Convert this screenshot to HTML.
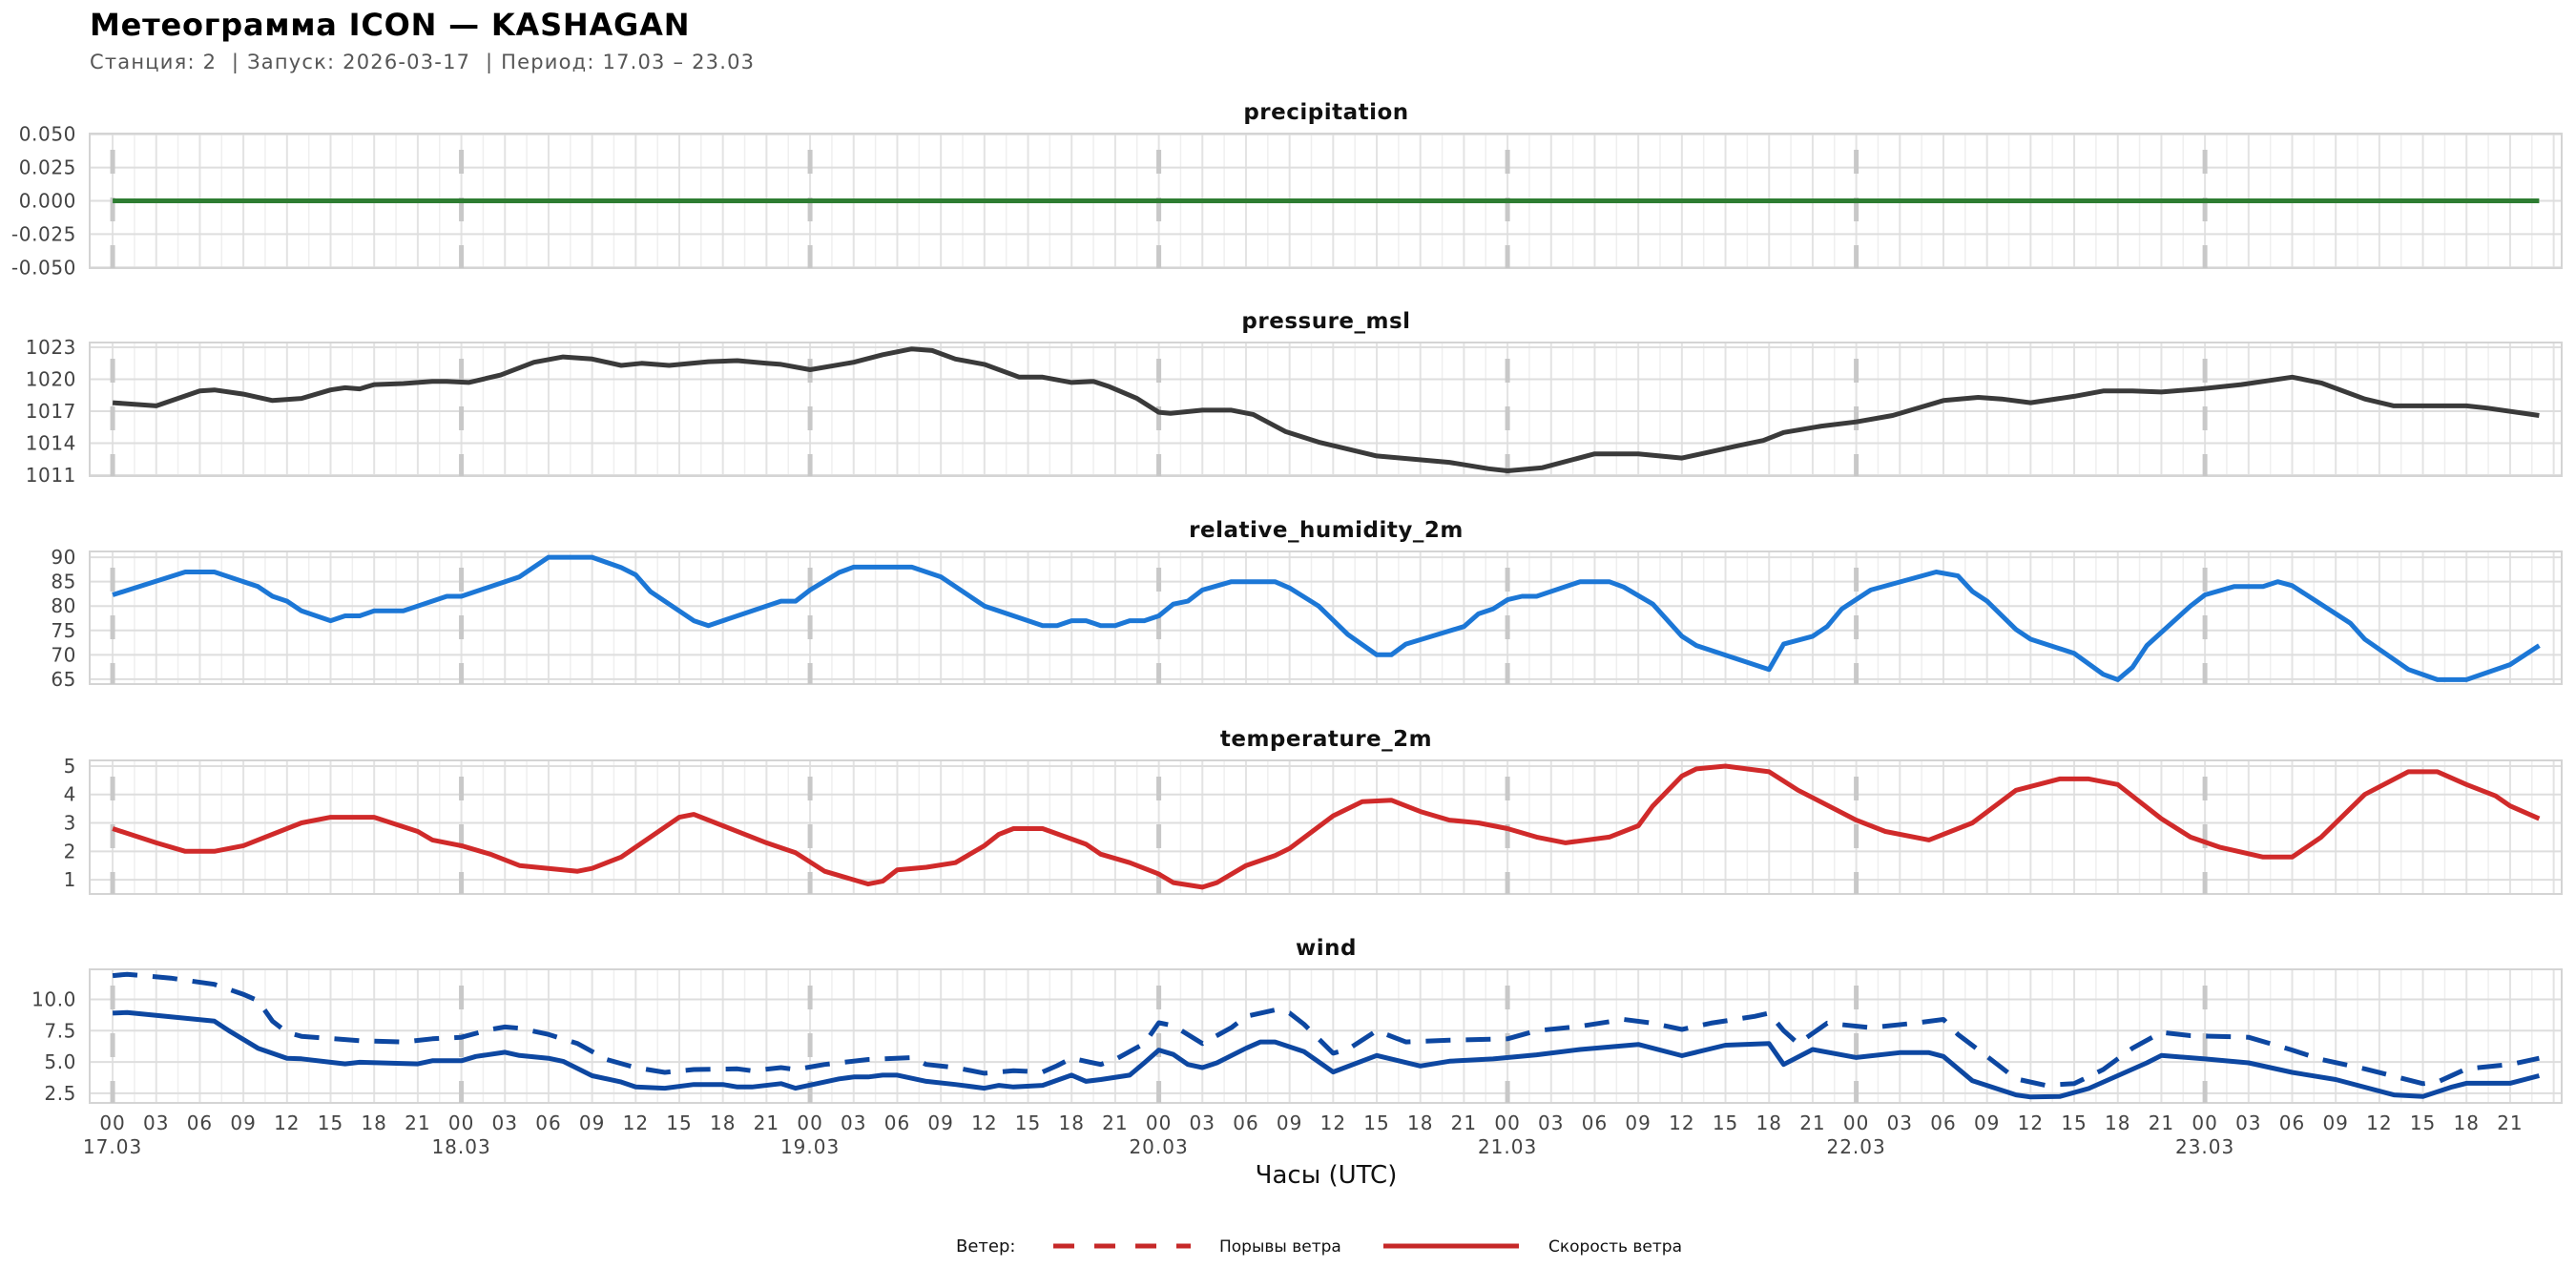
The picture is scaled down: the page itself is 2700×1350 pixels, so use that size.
<!DOCTYPE html>
<html><head><meta charset="utf-8">
<style>
html,body{margin:0;padding:0;background:#fff;}
svg{display:block;font-family:"DejaVu Sans","Liberation Sans",sans-serif;}
</style></head>
<body>
<svg id="chart" width="2700" height="1350" viewBox="0 0 2700 1350" xmlns="http://www.w3.org/2000/svg">
<text x="94" y="37" font-size="32" font-weight="bold" fill="#000" letter-spacing="0.8">Метеограмма ICON — KASHAGAN</text>
<text x="94" y="72" font-size="21" fill="#555" letter-spacing="1.2" style="white-space:pre">Станция: 2  | Запуск: 2026-03-17  | Период: 17.03 – 23.03</text>
<g id="panels"></g>
<text x="1390" y="1240" font-size="26" text-anchor="middle" fill="#111">Часы (UTC)</text>
<g>
<text x="1002" y="1312" font-size="18" fill="#111">Ветер:</text>
<line x1="1104" y1="1306" x2="1248" y2="1306" stroke="#c62828" stroke-width="5" stroke-dasharray="22,21"/>
<text x="1278" y="1312" font-size="17" fill="#111">Порывы ветра</text>
<line x1="1450" y1="1306" x2="1592" y2="1306" stroke="#c62828" stroke-width="5"/>
<text x="1623" y="1312" font-size="17" fill="#111">Скорость ветра</text>
</g>
</svg>
<script>
// ---- data ----
const precipHours = [0, 167];
const precipValues = [0, 0];
const pressureHours = [0,3,6,7,9,11,13,15,16,17,18,20,22,23,24.5,26.7,29,31,33,35,36.4,38.3,41,43,45,46,48,51,53,55,56.4,58,60,62.4,64,66,67.5,68.6,70.5,72,72.8,75,77,78.5,80.7,83,87,92,94.7,96,98.4,102,105,108,112,113.6,115,117.6,120,122.5,126,128.4,130,132,135,137,139,141,143.7,146.5,150,152,155,157,162,163.4,167];
const pressureValues = [1017.8,1017.5,1018.9,1019.0,1018.6,1018.0,1018.2,1019.0,1019.2,1019.1,1019.5,1019.6,1019.8,1019.8,1019.7,1020.4,1021.6,1022.1,1021.9,1021.3,1021.5,1021.3,1021.65,1021.75,1021.5,1021.4,1020.9,1021.6,1022.3,1022.85,1022.7,1021.9,1021.4,1020.2,1020.2,1019.7,1019.8,1019.3,1018.2,1016.9,1016.8,1017.1,1017.1,1016.7,1015.1,1014.1,1012.8,1012.2,1011.6,1011.4,1011.7,1013.0,1013.0,1012.6,1013.8,1014.25,1015.0,1015.6,1016.0,1016.6,1018.0,1018.3,1018.15,1017.8,1018.4,1018.9,1018.9,1018.8,1019.1,1019.5,1020.2,1019.65,1018.15,1017.5,1017.5,1017.3,1016.6];
const humidityHours = [0,5,7,10,11,12,13,15,16,17,18,20,23,24,28,30,33,35,36,37,40,41,46,47,48,50,51,55,57,60,64,65,66,67,68,69,70,71,72,73,74,75,77,80,81,83,85,87,88,89,93,94,95,96,97,98,101,103,104,106,108,109,114,115,117,118,119,121,125.5,127,128,129,131,132,135,137,138,139,140,143,144,146,148,149,150,154,155,158,160,162,165,167];
const humidityValues = [82.3,87,87,84,82,81,79,77,78,78,79,79,82,82,86,90,90,87.9,86.4,83,77,76,81,81,83.3,86.9,88,88,86,80,76,76,77,77,76,76,77,77,78,80.4,81,83.3,85,85,83.7,80,74.2,70,70,72.2,75.8,78.4,79.4,81.3,82,82,85,85,83.9,80.4,73.8,71.9,67,72.2,73.8,75.8,79.4,83.3,87,86.2,83,81,75.2,73.2,70.3,66,64.9,67.4,71.9,80,82.3,84,84,85,84.2,76.5,73.2,67,64.9,64.9,68,71.9];
const tempHours = [0,3,5,7,9,13,15,18,21,22,24,26,28,30,32,33,35,37,39,40,42,45,47,49,52,53,54,56,58,60,61,62,64,67,68,70,72,73,75,76,78,80,81,84,86,88,90,92,94,96,98,100,103,105,106,108,109,111,114,116,120,122,125,128,131,134,136,138,141,143,145,148,150,152,155,158,160,162,164,165,167];
const tempValues = [2.8,2.3,2.0,2.0,2.2,3.0,3.2,3.2,2.7,2.4,2.2,1.9,1.5,1.4,1.3,1.4,1.8,2.5,3.2,3.3,2.9,2.3,1.95,1.3,0.85,0.95,1.35,1.44,1.6,2.2,2.6,2.8,2.8,2.25,1.9,1.6,1.2,0.9,0.74,0.9,1.5,1.85,2.1,3.25,3.75,3.8,3.4,3.1,3.0,2.8,2.5,2.3,2.5,2.9,3.6,4.65,4.9,5.0,4.8,4.15,3.1,2.7,2.4,3.0,4.15,4.55,4.55,4.35,3.15,2.5,2.15,1.8,1.8,2.5,4.0,4.8,4.8,4.35,3.95,3.6,3.15];
const windHours = [0,1,7,8,10,12,13,15,16,17,21,22,24,25,27,28,30,31,33,35,36,38,40,42,43,44,46,47,50,51,52,53,54,56,58,60,61,62,64,66,67,68,70,71,72,73,74,75,76,78,79,80,82,84,87,90,92,95,98,101,105,108,111,114,115,117,120,123,125,126,128,131,132,134,136,140,141,144,147,150,153,157,159,161,162,165,167];
const windSpeed = [8.9,8.95,8.26,7.5,6.1,5.3,5.25,4.98,4.85,4.98,4.85,5.1,5.1,5.44,5.78,5.52,5.3,5.05,3.9,3.4,3.0,2.9,3.2,3.2,3.0,3.0,3.27,2.9,3.65,3.8,3.8,3.95,3.95,3.45,3.2,2.9,3.13,3.0,3.13,3.95,3.45,3.6,3.95,4.93,5.95,5.6,4.8,4.55,4.93,6.1,6.6,6.6,5.82,4.2,5.52,4.68,5.06,5.24,5.57,6.0,6.4,5.5,6.34,6.47,4.8,6.0,5.36,5.75,5.75,5.44,3.5,2.37,2.2,2.24,2.88,4.93,5.52,5.24,4.93,4.17,3.6,2.37,2.24,3.0,3.3,3.3,3.9];
const gustHours = [0,1,4,7,9,10,11,12,13,17,20,22,24,26,27,28,30,32,34,36,38,40,43,44,46,47,49,52,55,56,58,60,62,64,65,66,68,69,71,72,73,75,77,78,80,81,82,84,85,87,89,92,96,98,101,104,106,108,110,113,114,115,116,118,121,124,126,127,129,131,133,135,137,139,141,143,147,150,152,155,159,160,162,165,167];
const gustValues = [11.9,12.0,11.7,11.2,10.4,9.9,8.26,7.36,7.05,6.7,6.6,6.85,6.97,7.6,7.8,7.7,7.2,6.47,5.2,4.55,4.17,4.4,4.45,4.3,4.55,4.4,4.8,5.2,5.35,4.8,4.55,4.1,4.3,4.2,4.7,5.3,4.8,5.2,6.47,8.13,7.9,6.47,7.74,8.64,9.15,8.9,8.0,5.7,6.0,7.5,6.6,6.74,6.85,7.5,7.85,8.4,8.1,7.6,8.1,8.64,8.9,7.5,6.47,8.1,7.74,8.1,8.4,7.2,5.44,3.65,3.14,3.27,4.4,6.1,7.36,7.1,6.97,5.95,5.2,4.45,3.27,3.4,4.45,4.8,5.3];
const hourTickLabels = ["00","03","06","09","12","15","18","21"];
const dayLabels = ["17.03","18.03","19.03","20.03","21.03","22.03","23.03"];
const precipTicks = [-0.05,-0.025,0,0.025,0.05];
const pressureTicks = [1011,1014,1017,1020,1023];
const humidityTicks = [65,70,75,80,85,90];
const tempTicks = [1,2,3,4,5];
const windTicks = [2.5,5.0,7.5,10.0];

// ---- layout ----
const NS = "http://www.w3.org/2000/svg";
const PL = 94, PR = 2685, HMIN = -1.58, HMAX = 168.55;
function xs(h){ return PL + (h - HMIN) / (HMAX - HMIN) * (PR - PL); }
const root = document.getElementById('panels');
function mk(tag, attrs, parent){
  const e = document.createElementNS(NS, tag);
  for (const k in attrs) e.setAttribute(k, attrs[k]);
  (parent || root).appendChild(e);
  return e;
}
const panels = [
 {name:'precipitation', top:140, bot:281, min:-0.0505, max:0.0505, ticks:precipTicks, dec:3},
 {name:'pressure_msl', top:359, bot:499, min:1010.91, max:1023.45, ticks:pressureTicks, dec:0},
 {name:'relative_humidity_2m', top:578, bot:717, min:64.0, max:91.2, ticks:humidityTicks, dec:0},
 {name:'temperature_2m', top:797, bot:937, min:0.5, max:5.2, ticks:tempTicks, dec:0},
 {name:'wind', top:1016, bot:1156, min:1.73, max:12.4, ticks:windTicks, dec:1}
];
function drawLine(g, p, hours, vals, color, dash, name){
  const ys = v => p.bot - (v - p.min) / (p.max - p.min) * (p.bot - p.top);
  let d = '';
  for (let i = 0; i < hours.length; i++) d += (i ? 'L' : 'M') + xs(hours[i]).toFixed(1) + ',' + ys(vals[i]).toFixed(1);
  const l = mk('path', {d:d, fill:'none', stroke:color, 'stroke-width':5, 'stroke-linejoin':'round'}, g);
  if (dash) l.setAttribute('stroke-dasharray', dash);
  
  
}
panels.forEach(function(p){
  const g = mk('g', {});
  
  
  const ys = v => p.bot - (v - p.min) / (p.max - p.min) * (p.bot - p.top);
  const t = mk('text', {x:1390, y:p.top - 15, 'font-size':23, 'font-weight':'bold', 'text-anchor':'middle', fill:'#111', 'letter-spacing':'0.5'}, g);
  t.textContent = p.name;
  
  
  for (let h = 0; h <= 168; h += 1.5) {
    const major = (h % 3 === 0);
    mk('line', {x1:xs(h), x2:xs(h), y1:p.top, y2:p.bot, stroke: major ? '#e3e3e3' : '#efefef', 'stroke-width': major ? 2 : 1.5}, g);
  }
  p.ticks.forEach(function(v){
    const y = ys(v);
    mk('line', {x1:PL, x2:PR, y1:y, y2:y, stroke:'#dedede', 'stroke-width':2}, g);
    const tl = mk('text', {x:80, y:y + 7, 'font-size':20, 'text-anchor':'end', fill:'#444', 'letter-spacing':'0.6'}, g);
    tl.textContent = v.toFixed(p.dec);
    
    
  });
  mk('rect', {x:PL, y:p.top, width:PR - PL, height:p.bot - p.top, fill:'none', stroke:'#d4d4d4', 'stroke-width':2}, g);
  for (let d = 0; d < 7; d++) {
    const ln = mk('line', {x1:xs(d*24), x2:xs(d*24), y1:p.top + 17, y2:p.bot, stroke:'#c8c8c8', 'stroke-width':5, 'stroke-dasharray':'25,25'}, g);
    
    
  }
  if (p.name === 'precipitation') drawLine(g, p, precipHours, precipValues, '#2e7d32', null, 'precipitation-line');
  if (p.name === 'pressure_msl') drawLine(g, p, pressureHours, pressureValues, '#3a3a3a', null, 'pressure-line');
  if (p.name === 'relative_humidity_2m') drawLine(g, p, humidityHours, humidityValues, '#1c77d6', null, 'humidity-line');
  if (p.name === 'temperature_2m') drawLine(g, p, tempHours, tempValues, '#d02a2a', null, 'temperature-line');
  if (p.name === 'wind') {
    drawLine(g, p, gustHours, gustValues, '#0d47a1', '26,16', 'wind-gust-line');
    drawLine(g, p, windHours, windSpeed, '#0d47a1', null, 'wind-speed-line');
  }
});
const xg = mk('g', {});


for (let d = 0; d < 7; d++) {
  for (let k = 0; k < 8; k++) {
    const h = d*24 + k*3;
    if (h > 166) continue;
    const tl = mk('text', {x:xs(h), y:1184, 'font-size':20, 'text-anchor':'middle', fill:'#444', 'letter-spacing':'1'}, xg);
    tl.textContent = hourTickLabels[k];
    
    
  }
  const dl = mk('text', {x:xs(d*24), y:1209, 'font-size':20, 'text-anchor':'middle', fill:'#444', 'letter-spacing':'1'}, xg);
  dl.textContent = dayLabels[d];
  
  
}
</script>
</body></html>
